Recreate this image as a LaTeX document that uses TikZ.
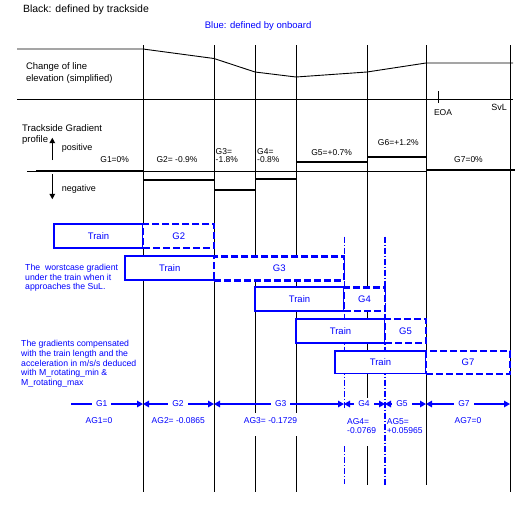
\documentclass[tikz,border=0pt]{standalone}
\usepackage{fontspec}
\setmainfont{Liberation Sans}
\usetikzlibrary{arrows.meta}
\definecolor{obblue}{RGB}{0,0,255}

\begin{document}
\begin{tikzpicture}[x=1pt,y=-1pt,
  thinline/.style={line width=0.9pt},
  gradline/.style={line width=2pt},
  title/.style={inner sep=0pt, anchor=west, font=\fontsize{10.5}{12}\selectfont},
  sidelabel/.style={inner sep=0pt, anchor=west, align=left, font=\fontsize{9.5}{11.7}\selectfont},
  gradlabel/.style={inner sep=0pt, align=left, font=\fontsize{8.5}{7.7}\selectfont},
  trainbox/.style={draw=obblue, line width=1.7pt, fill=white, text=obblue,
    inner sep=0pt, font=\fontsize{9.5}{11}\selectfont},
  gradbox/.style={draw=obblue, line width=2.3pt, dash pattern=on 7pt off 3pt,
    fill=white, text=obblue, inner sep=0pt, font=\fontsize{9.5}{11}\selectfont},
  note/.style={inner sep=0pt, anchor=west, align=left, text=obblue,
    font=\fontsize{8.7}{9.7}\selectfont},
  garrow/.style={draw=obblue, line width=1.4pt},
  glabel/.style={fill=white, inner xsep=4pt, inner ysep=1pt, text=obblue,
    font=\fontsize{8.5}{9}\selectfont},
  aglabel/.style={inner sep=0pt, text=obblue, align=left,
    font=\fontsize{8.5}{9.2}\selectfont},
  dashdot/.style={draw=obblue, dash pattern=on 6pt off 2pt on 1pt off 2pt},
  gtip/.tip={Triangle[length=6pt,width=6.5pt]},
  stip/.tip={Triangle[length=5.5pt,width=5.5pt]}
]
\useasboundingbox (0,0) rectangle (526,517);

% headings
\node[title] (hdblack) at (22.8,9.5) {Black: defined by trackside};
\node[title, text=obblue, font=\fontsize{9.5}{11}\selectfont] (hdblue) at (204.7,25.8) {Blue: defined by onboard};

% section boundaries
\draw[thinline] (143,45) -- (143,492);
\draw[thinline] (214,45) -- (214,492);
\draw[thinline] (255,45) -- (255,413) (255,436) -- (255,492);
\draw[thinline] (296,45) -- (296,413) (296,436) -- (296,492);
\draw[thinline] (367,45) -- (367,398) (367,446) -- (367,485);
\draw[thinline] (426,45) -- (426,485);
\draw[thinline] (510,45) -- (510,492);

% line elevation
\draw[thinline] (17,49) -- (143,49) -- (214,58.5) -- (255,72) -- (296,77)
  -- (367,72) -- (426,63) -- (513,63);
\draw[thinline] (17,99.3) -- (513,99.3);
\node[sidelabel] (elev) at (25.8,73.3) {Change of line\\elevation (simplified)};

% EOA and SvL
\draw[thinline] (438,91) -- (438,103);
\node[inner sep=0pt, font=\fontsize{8.5}{10}\selectfont] (eoa) at (443,113) {EOA};
\node[inner sep=0pt, font=\fontsize{9}{10}\selectfont] (svl) at (499,107) {SvL};

% trackside gradient profile
\node[sidelabel] (tgp) at (22,134.5) {Trackside Gradient\\profile};
\draw[line width=1.6pt, -{stip}] (52.3,160) -- (52.3,137.7);
\draw[line width=1.6pt, -{stip}] (52.3,174.3) -- (52.3,199.3);
\node[sidelabel, font=\fontsize{9}{10}\selectfont] (pos) at (61.7,147.7) {positive};
\node[sidelabel, font=\fontsize{9}{10}\selectfont] (neg) at (61.7,189) {negative};

\draw[thinline] (27,171) -- (426,171);
\draw[gradline] (36,171) -- (143,171);
\draw[gradline] (143,180) -- (214,180);
\draw[gradline] (214,190) -- (255,190);
\draw[gradline] (255,179) -- (296,179);
\draw[gradline] (296,161.7) -- (367,161.7);
\draw[gradline] (367,157) -- (426,157);
\draw[gradline] (426,170) -- (515,170);

\node[gradlabel] (g1) at (114.7,160) {G1=0\%};
\node[gradlabel] (g2) at (177,160) {G2= -0.9\%};
\node[gradlabel, anchor=west] (g3) at (215.5,155.3) {G3=\\-1.8\%};
\node[gradlabel, anchor=west] (g4) at (257,155.3) {G4=\\-0.8\%};
\node[gradlabel] (g5) at (331.7,152.7) {G5=+0.7\%};
\node[gradlabel] (g6) at (398.3,142.3) {G6=+1.2\%};
\node[gradlabel] (g7) at (468.5,160) {G7=0\%};

% onboard reference lines
\draw[dashdot, line width=0.9pt] (344,236.7) -- (344,408) (344,446) -- (344,484);
\draw[dashdot, line width=1.8pt] (385,236.7) -- (385,485);

% train positions and the gradients ahead of them
\node[trainbox, minimum width=89.6pt, minimum height=23.7pt] (tr1) at (98.5,235.9) {Train};
\node[gradbox, minimum width=71pt, minimum height=24pt] (gb2) at (178.8,236.1) {G2};
\node[trainbox, minimum width=89.3pt, minimum height=24pt] (tr2) at (169.7,268) {Train};
\node[gradbox, minimum width=130pt, minimum height=24pt] (gb3) at (279.3,268.4) {G3};
\node[trainbox, minimum width=89pt, minimum height=24pt] (tr3) at (299.5,299) {Train};
\node[gradbox, minimum width=41pt, minimum height=23.5pt] (gb4) at (364.5,299.3) {G4};
\node[trainbox, minimum width=89pt, minimum height=24pt] (tr4) at (340.5,330.7) {Train};
\node[gradbox, minimum width=41pt, minimum height=24pt] (gb5) at (405.5,331) {G5};
\node[trainbox, minimum width=91pt, minimum height=22.5pt] (tr5) at (380.5,362.1) {Train};
\node[gradbox, minimum width=84pt, minimum height=22.7pt] (gb7) at (468,362.6) {G7};

% notes
\node[note] (note1) at (25,278) {The\ \ worstcase gradient\\under the train when it\\approaches the SuL.};
\node[note] (note2) at (21,363.8) {The gradients compensated\\with the train length and the\\acceleration in m/s/s deduced\\with M\_rotating\_min \&\\M\_rotating\_max};

% compensated gradient sections
\coordinate (a0) at (71,404);
\coordinate (a1) at (143,404);
\coordinate (a2) at (214,404);
\coordinate (a3) at (344,404);
\coordinate (a4) at (385,404);
\coordinate (a5) at (426,404);
\coordinate (a6) at (510,404);
\draw[garrow, -{gtip}] (a0) -- (a1);
\draw[garrow, {gtip}-{gtip}] (a1) -- (a2);
\draw[garrow, {gtip}-{gtip}] (a2) -- (a3);
\draw[garrow, {gtip}-{gtip}] (a3) -- (a4);
\draw[garrow, {gtip}-{gtip}] (a4) -- (a5);
\draw[garrow, {gtip}-{gtip}] (a5) -- (a6);
\node[glabel] (s1) at (101.7,404) {G1};
\node[glabel] (s2) at (178,404) {G2};
\node[glabel] (s3) at (280.7,404) {G3};
\node[glabel] (s4) at (364,404) {G4};
\node[glabel] (s5) at (402,404) {G5};
\node[glabel] (s7) at (464,404) {G7};

\node[aglabel] (ag1) at (99,421) {AG1=0};
\node[aglabel] (ag2) at (178.3,421) {AG2= -0.0865};
\node[aglabel] (ag3) at (270.5,421) {AG3= -0.1729};
\node[aglabel, anchor=west] (ag4) at (347,425.7) {AG4=\\-0.0769};
\node[aglabel, anchor=west] (ag5) at (386.7,425.7) {AG5=\\+0.05965};
\node[aglabel] (ag7) at (468,421) {AG7=0};
\end{tikzpicture}
\end{document}
